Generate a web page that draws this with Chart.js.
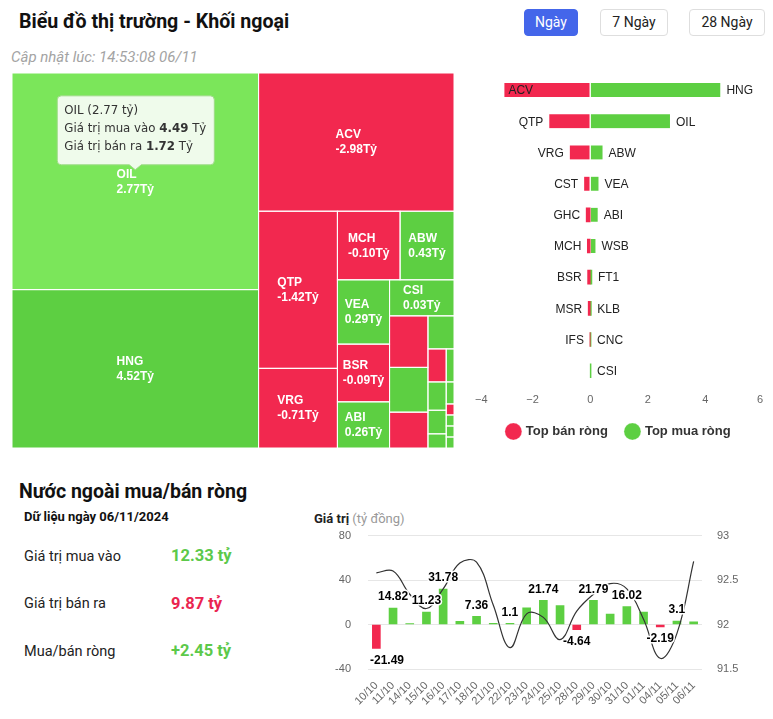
<!DOCTYPE html>
<html lang="vi">
<head>
<meta charset="utf-8">
<title>Biểu đồ thị trường - Khối ngoại</title>
<script src="https://cdn.jsdelivr.net/npm/chart.js@4.4.1/dist/chart.umd.min.js"></script>
<style>
  html, body { margin: 0; padding: 0; background: #fff; }
  body { width: 773px; height: 719px; position: relative; overflow: hidden;
         font-family: Roboto, "Liberation Sans", Arial, sans-serif; color: #222; }
  .abs { position: absolute; white-space: nowrap; }
  canvas { position: absolute; }
  .title { left: 19px; top: 9px; font-size: 19.6px; font-weight: 700; color: #111; line-height: 26px; }
  .updated { left: 11px; top: 48px; font-size: 15px; font-style: italic; color: #a3a3a3; line-height: 18px; }
  .btn { top: 9px; height: 27px; line-height: 25px; box-sizing: border-box; border: 1px solid #dedede;
         border-radius: 4px; font-size: 14px; text-align: center; color: #222; background: #fff; }
  .btn.on { background: #4466ea; border-color: #4466ea; color: #fff; }
  .h2 { left: 19px; top: 479px; font-size: 19.5px; font-weight: 700; color: #111; line-height: 25px; }
  .day { left: 24px; top: 509px; font-size: 13px; font-weight: 700; color: #111; line-height: 16px; }
  .lbl { left: 24px; font-size: 14.5px; color: #222; line-height: 20px; }
  .val { left: 171px; font-size: 16.5px; font-weight: 700; line-height: 20px; }
  .up { color: #5cc94a; }
  .down { color: #ea2550; }
  .axis-title { left: 314px; top: 511px; font-size: 13px; line-height: 16px; }
  .axis-title b { color: #222; }
  .axis-title span { color: #999; }
</style>
</head>
<body>
<div class="abs title">Biểu đồ thị trường - Khối ngoại</div>
<div class="abs updated">Cập nhật lúc: 14:53:08 06/11</div>
<div class="abs btn on" style="left:524px;width:54px;">Ngày</div>
<div class="abs btn" style="left:600px;width:68px;">7 Ngày</div>
<div class="abs btn" style="left:689px;width:76px;">28 Ngày</div>

<canvas id="treemap" width="442" height="375" style="left:12px;top:73px;width:442px;height:375px;"></canvas>
<canvas id="topChart" width="303" height="378" style="left:470px;top:70px;width:303px;height:378px;"></canvas>

<div class="abs h2">Nước ngoài mua/bán ròng</div>
<div class="abs day">Dữ liệu ngày 06/11/2024</div>
<div class="abs lbl" style="top:547px;">Giá trị mua vào</div>
<div class="abs val up" style="top:546px;">12.33 tỷ</div>
<div class="abs lbl" style="top:594px;">Giá trị bán ra</div>
<div class="abs val down" style="top:594px;">9.87 tỷ</div>
<div class="abs lbl" style="top:642px;">Mua/bán ròng</div>
<div class="abs val up" style="top:641px;">+2.45 tỷ</div>

<div class="abs axis-title"><b>Giá trị</b> <span>(tỷ đồng)</span></div>
<canvas id="flowChart" width="473" height="194" style="left:300px;top:525px;width:473px;height:194px;"></canvas>

<script>
// treemap: foreign trading per stock (tỷ đồng), size = buy + sell, colour by net
const stockNames = ['OIL', 'HNG', 'ACV', 'QTP', 'VRG', 'MCH', 'ABW', 'VEA', 'BSR', 'ABI', 'CSI',
                    'CST', 'WSB', 'GHC', 'FT1', 'MSR', 'KLB', 'CNC', '', '', '', 'IFS', '', '', ''];
const stockBuy  = [4.49, 4.53, 0.08, 0.01, 0.01, 0.20, 0.43, 0.34, 0.13, 0.27, 0.15,
                   0.01, 0.19, 0.01, 0.08, 0.00, 0.05, 0.04, 0.02, 0.02, 0.02, 0.00, 0.01, 0.01, 0.01];
const stockSell = [1.72, 0.01, 3.06, 1.43, 0.72, 0.30, 0.00, 0.05, 0.22, 0.01, 0.12,
                   0.22, 0.01, 0.15, 0.02, 0.07, 0.01, 0.01, 0.01, 0.01, 0.00, 0.01, 0.00, 0.00, 0.00];
const hoverStock = 'OIL';

// top net sellers / buyers
const topSellNames  = ['ACV', 'QTP', 'VRG', 'CST', 'GHC', 'MCH', 'BSR', 'MSR', 'IFS', ''];
const topSellValues = [-2.98, -1.42, -0.71, -0.21, -0.14, -0.10, -0.09, -0.07, -0.01, null];
const topBuyNames   = ['HNG', 'OIL', 'ABW', 'VEA', 'ABI', 'WSB', 'FT1', 'KLB', 'CNC', 'CSI'];
const topBuyValues  = [4.52, 2.77, 0.43, 0.29, 0.26, 0.185, 0.06, 0.04, 0.03, 0.03];
const topTicks = [-4, 6, 2];   // min, max, step

// daily net flow and index
const tradeDates = ['10/10', '11/10', '14/10', '15/10', '16/10', '17/10', '18/10', '21/10', '22/10', '23/10',
                    '24/10', '25/10', '28/10', '29/10', '30/10', '31/10', '01/11', '04/11', '05/11', '06/11'];
const netFlow    = [-21.49, 14.82, 0.9, 11.23, 31.78, 2.8, 7.36, 0.95, 1.1, 14.9,
                    21.74, 17.1, -4.64, 21.79, 9.4, 16.02, 11.1, -2.19, 3.1, 2.45];
const indexValues = [92.58, 92.60, 92.34, 92.18, 92.40, 92.69, 92.70, 92.22, 91.74, 92.12,
                     92.08, 91.83, 92.15, 92.34, 92.46, 92.40, 92.06, 91.62, 91.90, 92.71];
const flowTicks  = [-40, 80, 40];
const indexTicks = [91.5, 93, 0.5];

const GREEN = '#5dcf42';
const GREEN_HOVER = '#7be65a';
const RED = '#f2284f';

Chart.defaults.font.family = '"Liberation Sans", Arial, sans-serif';
Chart.defaults.animation = false;

// squarified layout, strips alternate column / row (same idea as highcharts)
function squarify(values, width, height) {
  const total = values.reduce((s, v) => s + v, 0);
  const areas = values.map(v => v / total * width * height);
  const rects = [];
  let x = 0, y = 0, w = width, h = height;
  let vertical = true;
  let strip = [];
  const aspect = (a, b) => Math.max(a / b, b / a);
  const stripSum = () => strip.reduce((s, v) => s + v, 0);

  function placeStrip() {
    const sum = stripSum();
    if (vertical) {
      const sw = sum / h;
      let cy = y;
      strip.forEach(a => { rects.push({ x, y: cy, w: sw, h: a / sw }); cy += a / sw; });
      x += sw; w -= sw;
    } else {
      const sh = sum / w;
      let cx = x;
      strip.forEach(a => { rects.push({ x: cx, y, w: a / sh, h: sh }); cx += a / sh; });
      y += sh; h -= sh;
    }
    vertical = !vertical;
    strip = [];
  }

  areas.forEach(a => {
    if (strip.length) {
      const side = vertical ? h : w;
      const last = strip[strip.length - 1];
      const before = stripSum() / side;
      const after = (stripSum() + a) / side;
      if (aspect(after, last / after) > aspect(before, last / before)) placeStrip();
    }
    strip.push(a);
  });
  if (strip.length) placeStrip();
  return rects;
}

function roundRectTip(ctx, x, y, w, h, r, tipX, tipH) {
  ctx.beginPath();
  ctx.moveTo(x + r, y);
  ctx.lineTo(x + w - r, y);
  ctx.quadraticCurveTo(x + w, y, x + w, y + r);
  ctx.lineTo(x + w, y + h - r);
  ctx.quadraticCurveTo(x + w, y + h, x + w - r, y + h);
  ctx.lineTo(tipX + 6, y + h);
  ctx.lineTo(tipX, y + h + tipH);
  ctx.lineTo(tipX - 6, y + h);
  ctx.lineTo(x + r, y + h);
  ctx.quadraticCurveTo(x, y + h, x, y + h - r);
  ctx.lineTo(x, y + r);
  ctx.quadraticCurveTo(x, y, x + r, y);
  ctx.closePath();
}

const treemapPlugin = {
  id: 'treemap',
  afterDatasetsDraw(chart) {
    const { ctx, scales: { x, y } } = chart;
    const size = i => stockBuy[i] + stockSell[i];
    const order = stockNames.map((_, i) => i).sort((a, b) => size(b) - size(a));
    const layout = squarify(order.map(size), x.max - x.min, y.max - y.min);

    const cells = layout.map((r, k) => {
      const i = order[k];
      const left = x.getPixelForValue(x.min + r.x);
      const right = x.getPixelForValue(x.min + r.x + r.w);
      const top = y.getPixelForValue(y.min + r.y);
      const bottom = y.getPixelForValue(y.min + r.y + r.h);
      return { i, left, top, w: right - left, h: bottom - top, net: stockBuy[i] - stockSell[i] };
    });

    ctx.save();
    cells.forEach(c => {
      const hover = stockNames[c.i] === hoverStock;
      ctx.fillStyle = c.net < 0 ? RED : (hover ? GREEN_HOVER : GREEN);
      ctx.fillRect(c.left, c.top, c.w, c.h);
    });
    ctx.strokeStyle = '#fff';
    ctx.lineWidth = 1;
    cells.forEach(c => ctx.strokeRect(c.left, c.top, c.w, c.h));

    ctx.font = 'bold 12px "Liberation Sans", Arial';
    ctx.fillStyle = '#fff';
    ctx.textBaseline = 'middle';
    ctx.textAlign = 'left';
    cells.forEach(c => {
      const name = stockNames[c.i];
      const val = c.net.toFixed(2) + 'Tỷ';
      const tw = Math.max(ctx.measureText(name).width, ctx.measureText(val).width);
      if (!name || tw + 10 > c.w || c.h < 32) return;
      const tx = c.left + (c.w - tw) / 2;
      const cy = c.top + c.h / 2;
      ctx.fillText(name, tx, cy - 7);
      ctx.fillText(val, tx, cy + 8);
    });

    // hover tooltip of the highlighted stock
    const hc = cells.find(c => stockNames[c.i] === hoverStock);
    if (hc) {
      const i = hc.i;
      const lines = [
        [{ t: `${stockNames[i]} (${hc.net.toFixed(2)} tỷ)` }],
        [{ t: 'Giá trị mua vào ' }, { t: stockBuy[i].toFixed(2), b: true }, { t: ' Tỷ' }],
        [{ t: 'Giá trị bán ra ' }, { t: stockSell[i].toFixed(2), b: true }, { t: ' Tỷ' }]
      ];
      const reg = '11.8px "DejaVu Sans", sans-serif';
      const bold = 'bold 11.8px "DejaVu Sans", sans-serif';
      const widths = lines.map(parts => parts.reduce((s, p) => {
        ctx.font = p.b ? bold : reg;
        return s + ctx.measureText(p.t).width;
      }, 0));
      const bw = Math.max(...widths) + 15;
      const bh = 69;
      const tipX = hc.left + hc.w / 2;
      const tipY = hc.top + hc.h / 2 - 12;
      const bx = tipX - bw / 2;
      const by = tipY - 5 - bh;
      roundRectTip(ctx, bx + 0.5, by + 0.5, bw, bh, 4, tipX, 5);
      ctx.fillStyle = 'rgba(246, 252, 243, 0.95)';
      ctx.fill();
      ctx.strokeStyle = '#9edb86';
      ctx.lineWidth = 1;
      ctx.stroke();
      ctx.fillStyle = '#333';
      lines.forEach((parts, li) => {
        let tx = bx + 7.5;
        parts.forEach(p => {
          ctx.font = p.b ? bold : reg;
          ctx.fillText(p.t, tx, by + 16 + li * 18);
          tx += ctx.measureText(p.t).width;
        });
      });
    }
    ctx.restore();
  }
};

new Chart(document.getElementById('treemap'), {
  type: 'scatter',
  data: { datasets: [{ data: [] }] },
  options: {
    responsive: false,
    layout: { padding: 0 },
    plugins: { legend: { display: false }, tooltip: { enabled: false } },
    scales: {
      x: { display: false, min: 0, max: 442 },
      y: { display: false, min: 0, max: 375, reverse: true }
    }
  },
  plugins: [treemapPlugin]
});

// names next to the bar ends
const barNamePlugin = {
  id: 'barNames',
  afterDatasetsDraw(chart) {
    const { ctx, chartArea } = chart;
    ctx.save();
    ctx.font = '12px "Liberation Sans", Arial';
    ctx.fillStyle = '#222';
    ctx.textBaseline = 'middle';
    ctx.textAlign = 'left';
    chart.data.datasets.forEach((ds, di) => {
      chart.getDatasetMeta(di).data.forEach((bar, i) => {
        const v = ds.data[i];
        const name = ds.names[i];
        if (v == null || !name) return;
        const w = ctx.measureText(name).width;
        let tx;
        if (v < 0) {
          tx = bar.x - 6 - w;
          if (tx < chartArea.left + 20) tx = bar.x + 4;
        } else {
          tx = bar.x + 6;
        }
        ctx.fillText(name, tx, bar.y + 1);
      });
    });
    ctx.restore();
  }
};

new Chart(document.getElementById('topChart'), {
  type: 'bar',
  data: {
    labels: topBuyNames,
    datasets: [
      { label: 'Top bán ròng', data: topSellValues, names: topSellNames, backgroundColor: RED,
        borderColor: '#fff', borderSkipped: false,
        borderWidth: c => Math.abs(c.raw) > 0.15 ? { right: 1 } : 0 },
      { label: 'Top mua ròng', data: topBuyValues, names: topBuyNames, backgroundColor: GREEN,
        borderColor: '#fff', borderSkipped: false,
        borderWidth: c => Math.abs(c.raw) > 0.15 ? { left: 1 } : 0 }
    ]
  },
  options: {
    indexAxis: 'y',
    responsive: false,
    layout: { padding: { left: 5, right: 10, top: 4.5, bottom: 0 } },
    datasets: { bar: { barThickness: 14 } },
    scales: {
      x: {
        stacked: true, min: topTicks[0], max: topTicks[1],
        grid: { display: false, drawTicks: true, tickLength: 7 }, border: { display: false },
        ticks: { stepSize: topTicks[2], color: '#666', font: { size: 11 }, padding: 0, align: 'inner',
                 callback: v => String(v).replace('-', '−') }
      },
      y: { stacked: true, display: false }
    },
    plugins: {
      tooltip: { enabled: false },
      legend: {
        position: 'bottom',
        labels: { usePointStyle: true, pointStyle: 'circle', boxWidth: 12, boxHeight: 12, padding: 18.5,
                  color: '#333', font: { size: 13, weight: 'bold' } }
      }
    }
  },
  plugins: [barNamePlugin]
});

// value labels, hidden where they would collide (bigger values win)
const flowLabelPlugin = {
  id: 'flowLabels',
  afterDatasetsDraw(chart) {
    const { ctx, chartArea } = chart;
    const di = chart.data.datasets.findIndex(d => d.type === 'bar');
    const meta = chart.getDatasetMeta(di);
    ctx.save();
    ctx.font = 'bold 12px "Liberation Sans", Arial';
    const boxes = meta.data.map((bar, i) => {
      const v = netFlow[i];
      const text = String(v);
      const w = ctx.measureText(text).width;
      let cx = bar.x;
      cx = Math.max(chartArea.left + w / 2 + 2, Math.min(chartArea.right - w / 2 - 2, cx));
      const cy = v < 0 ? bar.y + 12 : bar.y - 11;
      return { i, v, text, cx, cy, x1: cx - w / 2, x2: cx + w / 2, y1: cy - 9, y2: cy + 9 };
    });
    const placed = [];
    boxes.slice().sort((a, b) => b.v - a.v).forEach(b => {
      const hit = placed.some(p => b.x1 < p.x2 && b.x2 > p.x1 && b.y1 < p.y2 && b.y2 > p.y1);
      if (!hit) placed.push(b);
    });
    ctx.textAlign = 'center';
    ctx.textBaseline = 'middle';
    ctx.lineJoin = 'round';
    placed.forEach(b => {
      ctx.strokeStyle = '#fff';
      ctx.lineWidth = 3;
      ctx.strokeText(b.text, b.cx, b.cy);
      ctx.fillStyle = '#000';
      ctx.fillText(b.text, b.cx, b.cy);
    });
    ctx.restore();
  }
};

new Chart(document.getElementById('flowChart'), {
  type: 'bar',
  data: {
    labels: tradeDates,
    datasets: [
      { type: 'line', data: indexValues, yAxisID: 'yIndex', borderColor: '#333', borderWidth: 1.2,
        pointRadius: 0, tension: 0.4, fill: false, order: 0 },
      { type: 'bar', data: netFlow, yAxisID: 'yValue', barThickness: 8, order: 1,
        backgroundColor: c => c.raw < 0 ? RED : GREEN }
    ]
  },
  options: {
    responsive: false,
    layout: { padding: { top: 10.5, left: 0, right: 0, bottom: 0 } },
    scales: {
      x: {
        grid: { display: false }, border: { display: false },
        ticks: { color: '#666', font: { size: 11 }, maxRotation: 45, minRotation: 45, autoSkip: false, padding: 2 },
        afterFit: s => { s.height = 50; }
      },
      yValue: {
        position: 'left', min: flowTicks[0], max: flowTicks[1],
        grid: { color: '#e6e6e6', drawTicks: true, tickLength: 17, tickColor: 'rgba(0,0,0,0)' },
        border: { display: false },
        ticks: { stepSize: flowTicks[2], color: '#666', font: { size: 11 }, padding: 0 },
        afterFit: s => { s.width = 68; }
      },
      yIndex: {
        position: 'right', min: indexTicks[0], max: indexTicks[1],
        grid: { display: false, drawTicks: true, tickLength: 15 }, border: { display: false },
        ticks: { stepSize: indexTicks[2], color: '#666', font: { size: 11 }, padding: 0,
                 callback: v => String(Number(v.toFixed(1))) },
        afterFit: s => { s.width = 71; }
      }
    },
    plugins: { legend: { display: false }, tooltip: { enabled: false } }
  },
  plugins: [flowLabelPlugin]
});
</script>
</body>
</html>
